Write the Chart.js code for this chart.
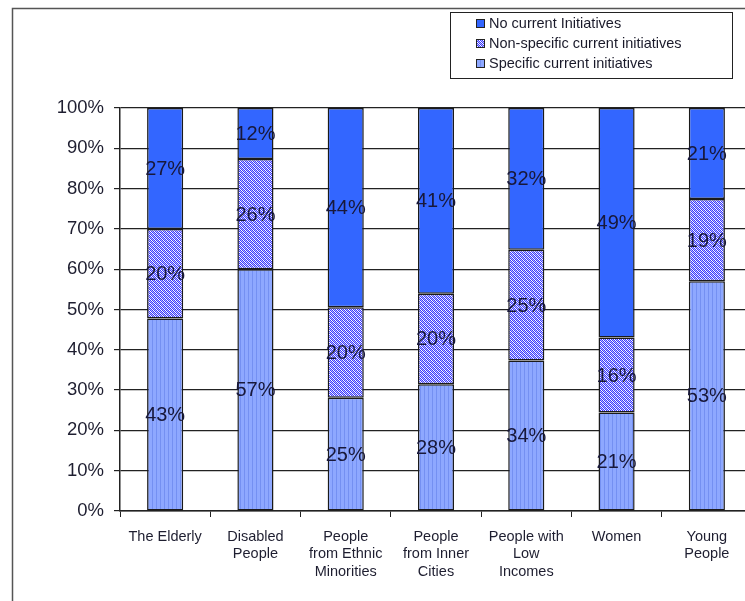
<!DOCTYPE html>
<html>
<head>
<meta charset="utf-8">
<script src="https://cdn.jsdelivr.net/npm/chart.js@4.4.1/dist/chart.umd.min.js"></script>
<style>
  html, body { margin: 0; padding: 0; background: #fff; overflow: hidden; }
  #wrap { width: 752px; height: 601px; }
</style>
</head>
<body>
<div id="wrap"><canvas id="myChart" width="752" height="601"></canvas></div>
<script>
// data (labels show raw %, bars are scaled to 100%)
const groups = [
  ['The Elderly'],
  ['Disabled', 'People'],
  ['People', 'from Ethnic', 'Minorities'],
  ['People', 'from Inner', 'Cities'],
  ['People with', 'Low', 'Incomes'],
  ['Women'],
  ['Young', 'People'],
];
const specific = [43, 57, 25, 28, 34, 21, 53];
const nonSpecific = [20, 26, 20, 20, 25, 16, 19];
const noCurrent = [27, 12, 44, 41, 32, 49, 21];
const yTicks = [0, 10, 20, 30, 40, 50, 60, 70, 80, 90, 100];

const totals = specific.map((v, i) => v + nonSpecific[i] + noCurrent[i]);
const toShare = (arr) => arr.map((v, i) => v / totals[i] * 100);

// fill patterns
const makePattern = (size, draw) => {
  const c = document.createElement('canvas');
  c.width = size;
  c.height = size;
  const g = c.getContext('2d');
  draw(g);
  return g.createPattern(c, 'repeat');
};

const stripes = makePattern(4, (g) => {
  g.fillStyle = '#8ea8ff';
  g.fillRect(0, 0, 4, 4);
  g.fillStyle = '#7490f2';
  g.fillRect(0, 0, 1, 4);
});

const checks = makePattern(4, (g) => {
  g.fillStyle = '#3c3cff';
  g.fillRect(0, 0, 4, 4);
  g.fillStyle = '#ffffff';
  for (let i = 0; i < 4; i++) {
    g.fillRect(i, (i + 1) % 4, 1, 1);
  }
  g.fillStyle = '#b8b8ff';
  for (let i = 0; i < 4; i++) {
    g.fillRect(i, (i + 3) % 4, 1, 1);
  }
});

const solidBlue = '#3366ff';

// frame, legend box and value labels
const extras = {
  id: 'extras',
  beforeDraw(chart) {
    const c = chart.ctx;
    c.save();
    c.strokeStyle = '#555';
    c.lineWidth = 1.5;
    c.beginPath();
    c.moveTo(12.5, 601);
    c.lineTo(12.5, 8.5);
    c.lineTo(752, 8.5);
    c.stroke();
    c.restore();
  },
  afterDatasetsDraw(chart) {
    const c = chart.ctx;
    c.save();
    c.font = '20px Arial, "Liberation Sans", sans-serif';
    c.fillStyle = '#18183a';
    c.textAlign = 'center';
    c.textBaseline = 'middle';
    chart.data.datasets.forEach((ds, di) => {
      const meta = chart.getDatasetMeta(di);
      meta.data.forEach((bar, i) => {
        c.fillText(ds.raw[i] + '%', bar.x, (bar.y + bar.base) / 2 + 1);
      });
    });

    // legend
    c.fillStyle = '#fff';
    c.fillRect(450, 12, 282, 66);
    c.strokeStyle = '#222';
    c.lineWidth = 1;
    c.strokeRect(450.5, 12.5, 282, 66);
    const items = [2, 1, 0];
    c.font = '14.5px Arial, "Liberation Sans", sans-serif';
    c.textAlign = 'left';
    items.forEach((di, k) => {
      const ds = chart.data.datasets[di];
      const y = 23 + k * 20;
      c.fillStyle = ds.backgroundColor;
      c.fillRect(476, y - 4, 9, 9);
      c.strokeStyle = '#222';
      c.strokeRect(476.5, y - 3.5, 8, 8);
      c.fillStyle = '#1a1a2a';
      c.fillText(ds.label, 489, y + 1);
    });
    c.restore();
  }
};

const ctx = document.getElementById('myChart');

const config = {
  type: 'bar',
  data: {
    labels: groups,
    datasets: [
      {
        label: 'Specific current initiatives',
        data: toShare(specific),
        raw: specific,
        backgroundColor: stripes,
        borderColor: '#1a1a1a',
        borderWidth: 1.5,
        borderSkipped: false,
      },
      {
        label: 'Non-specific current initiatives',
        data: toShare(nonSpecific),
        raw: nonSpecific,
        backgroundColor: checks,
        borderColor: '#1a1a1a',
        borderWidth: 1.5,
        borderSkipped: false,
      },
      {
        label: 'No current Initiatives',
        data: toShare(noCurrent),
        raw: noCurrent,
        backgroundColor: solidBlue,
        borderColor: '#1a1a1a',
        borderWidth: 1.5,
        borderSkipped: false,
      },
    ]
  },
  options: {
    responsive: false,
    animation: false,
    barPercentage: 0.4,
    categoryPercentage: 1,
    layout: {
      padding: { left: 0, top: 108, right: 0, bottom: 0 }
    },
    plugins: {
      legend: { display: false },
      tooltip: { enabled: false },
      title: { display: false },
    },
    scales: {
      x: {
        stacked: true,
        grid: {
          offset: true,
          drawOnChartArea: false,
          color: '#222',
          tickLength: 6,
        },
        border: { color: '#222', width: 1.5 },
        ticks: {
          color: '#1e1e30',
          font: { family: 'Arial, "Liberation Sans", sans-serif', size: 14.5 },
          padding: 11,
          maxRotation: 0,
          autoSkip: false,
        },
        afterFit: (scale) => { scale.height = 90; },
      },
      y: {
        stacked: true,
        min: 0,
        max: 100,
        afterBuildTicks: (scale) => {
          scale.ticks = yTicks.map((v) => ({ value: v }));
        },
        grid: {
          color: '#222',
          tickLength: 6,
          lineWidth: 1.2,
        },
        border: { color: '#222', width: 1.5 },
        ticks: {
          color: '#1e1e30',
          font: { family: 'Arial, "Liberation Sans", sans-serif', size: 18.5 },
          padding: 10,
          callback: (v) => v + '%',
        },
        afterFit: (scale) => { scale.width = 120; },
      }
    }
  },
  plugins: [extras]
};

let myChart = new Chart(ctx, config);
</script>
</body>
</html>
